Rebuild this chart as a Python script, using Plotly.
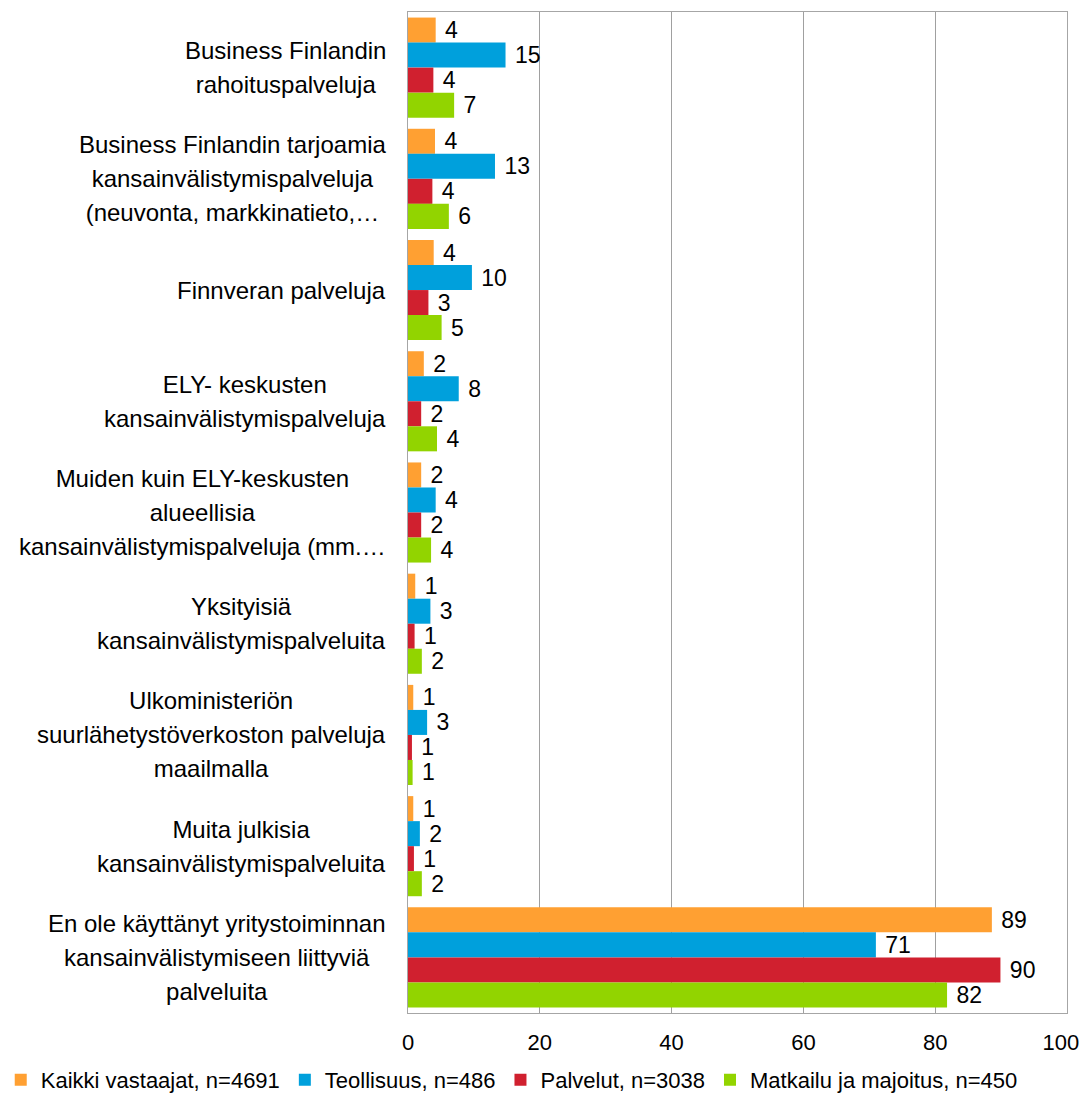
import plotly.graph_objects as go

categories = [
    "Business Finlandin<br>rahoituspalveluja",
    "Business Finlandin tarjoamia<br>kansainvälistymispalveluja<br>(neuvonta, markkinatieto,…",
    "Finnveran palveluja",
    "ELY- keskusten<br>kansainvälistymispalveluja",
    "Muiden kuin ELY-keskusten<br>alueellisia<br>kansainvälistymispalveluja (mm.…",
    "Yksityisiä<br>kansainvälistymispalveluita",
    "Ulkoministeriön<br>suurlähetystöverkoston palveluja<br>maailmalla",
    "Muita julkisia<br>kansainvälistymispalveluita",
    "En ole käyttänyt yritystoiminnan<br>kansainvälistymiseen liittyviä<br>palveluita",
]

series_names = [
    "Kaikki vastaajat, n=4691",
    "Teollisuus, n=486",
    "Palvelut, n=3038",
    "Matkailu ja majoitus, n=450",
]

kaikki = [4.2, 4.1, 3.9, 2.4, 2.0, 1.1, 0.8, 0.8, 88.6]
teollisuus = [14.8, 13.2, 9.7, 7.7, 4.2, 3.4, 2.9, 1.8, 71.0]
palvelut = [3.85, 3.7, 3.1, 2.0, 2.0, 1.0, 0.6, 0.9, 89.9]
matkailu = [7.0, 6.2, 5.1, 4.4, 3.5, 2.1, 0.7, 2.1, 81.8]

series_values = [kaikki, teollisuus, palvelut, matkailu]
colors = ["#FFA032", "#00A0DC", "#D0202F", "#92D400"]

x_ticks = [0, 20, 40, 60, 80, 100]
x_tick_text = ["0", "20", "40", "60", "80", "100\u2007"]

FONT = "Liberation Sans"

fig = go.Figure()
for name, vals, col in zip(series_names, series_values, colors):
    fig.add_trace(go.Bar(
        y=categories,
        x=vals,
        orientation="h",
        name=name,
        marker=dict(color=col, line=dict(width=0)),
        text=[f" {round(v)}" for v in vals],
        textposition="outside",
        textfont=dict(family=FONT, size=23, color="black"),
        constraintext="none",
        cliponaxis=False,
        hoverinfo="skip",
    ))

for cat in categories:
    lines = cat.split("<br>")
    txt = "<br>".join(f'<span style="font-size:24px">{ln}</span>' for ln in lines)
    fig.add_annotation(
        x=-0.03, xref="paper", xanchor="right",
        y=cat, yref="y", yanchor="middle",
        text=txt, align="center", showarrow=False,
        font=dict(family=FONT, size=26, color="black"),
    )

fig.update_layout(
    width=1072, height=1088,
    margin=dict(l=400, r=13, t=4, b=83, autoexpand=False),
    barmode="group",
    bargap=0.1,
    bargroupgap=0,
    plot_bgcolor="white",
    paper_bgcolor="white",
    font=dict(family=FONT, size=22, color="black"),
    showlegend=True,
    legend=dict(
        orientation="h",
        x=-0.618, xanchor="left",
        y=-0.046, yanchor="top",
        font=dict(family=FONT, size=22, color="black"),
        traceorder="normal",
        itemwidth=30,
    ),
    xaxis=dict(
        range=[0, 100],
        tickvals=x_ticks,
        ticktext=x_tick_text,
        showgrid=True, gridcolor="#A0A0A0", gridwidth=1,
        showline=True, linecolor="#A6A6A6", linewidth=1, mirror=True,
        zeroline=False,
        ticks="outside", ticklen=10, tickcolor="white",
        ticklabeloverflow="allow",
        tickfont=dict(family=FONT, size=22, color="black"),
        fixedrange=True,
    ),
    yaxis=dict(
        categoryorder="array", categoryarray=categories,
        autorange="reversed",
        showticklabels=False,
        showline=True, linecolor="#A6A6A6", linewidth=1, mirror=True,
        showgrid=False, ticks="",
        fixedrange=True,
    ),
)

fig.write_html("out.html")
